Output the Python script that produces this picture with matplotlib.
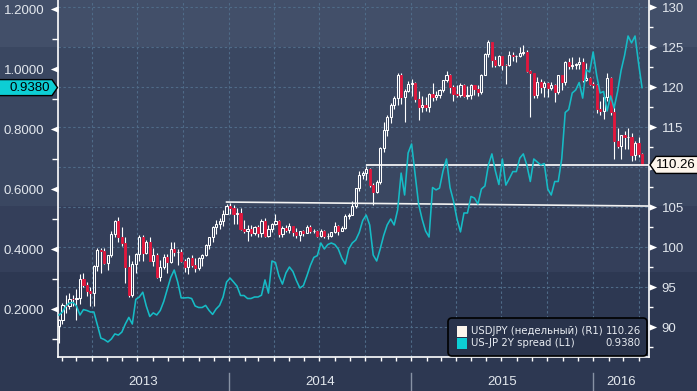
import numpy as np
import pandas as pd
import matplotlib
matplotlib.use("Agg")
import matplotlib.pyplot as plt
import matplotlib.dates as mdates
from matplotlib.patches import Polygon, FancyBboxPatch, Rectangle
from matplotlib.transforms import IdentityTransform, blended_transform_factory
from matplotlib.path import Path
from matplotlib.markers import MarkerStyle
from matplotlib.ticker import FixedLocator, FormatStrFormatter, NullFormatter, FuncFormatter

plt.rcParams['font.family'] = ['Liberation Sans', 'DejaVu Sans']

# ---------------- data ----------------
week_start = "2013-01-25"      # weekly candles, week-ending Fridays
n_weeks = 168

opens = [
    90.07, 90.85, 92.75, 92.67, 93.52, 93.45, 93.58, 96.02, 95.26, 94.51,
    94.22, 97.57, 99.60, 99.55, 98.05, 98.99, 101.61, 103.30, 101.22, 100.45,
    97.55, 94.05, 97.88, 99.14, 101.21, 99.22, 100.62, 98.27, 98.96, 96.22,
    97.54, 98.71, 98.13, 99.70, 99.35, 99.37, 98.22, 97.46, 98.59, 97.72,
    97.39, 98.65, 99.06, 100.23, 101.26, 102.44, 102.93, 103.19, 104.14,
    105.14, 104.86, 104.10, 104.28, 102.31, 102.04, 102.30, 101.80, 102.55, 101.81,
    103.28, 101.36, 102.25, 102.84, 103.28, 101.60, 102.42, 102.18, 102.57, 101.84,
    101.48, 101.98, 101.78, 102.49, 102.03, 102.06, 101.38, 102.06, 101.34, 101.34,
    101.83, 102.59, 102.03, 102.35, 103.86, 104.05, 105.08, 107.37, 108.99, 109.28,
    109.77, 107.76, 106.87, 108.14, 112.33, 114.60, 116.28, 117.76, 118.62, 121.44,
    118.75, 119.50,
    120.40, 120.48, 118.55, 117.52, 117.73, 117.49, 119.14, 118.73, 119.02, 119.64,
    120.83, 121.45, 120.02, 119.14, 118.95, 120.20, 118.93, 118.97, 120.22, 119.77,
    119.34, 121.54, 124.13, 125.59, 123.41, 122.69, 123.85, 122.80, 122.76, 124.03,
    123.82, 123.92, 124.21, 124.32, 122.04, 121.73, 119.03, 120.60, 119.96, 120.56,
    119.89, 120.22, 119.37, 121.45, 120.63, 123.15, 122.61, 122.79, 122.82, 123.11,
    120.93, 121.16, 120.33,
    120.20, 117.24, 117.03, 118.76, 121.13, 116.89, 113.23, 112.57, 113.99, 113.77,
    113.77, 111.55, 113.01, 111.63,
]
highs = [
    91.00, 92.95, 94.06, 94.20, 94.00, 94.80, 96.60, 96.70, 95.60, 95.00,
    97.80, 99.90, 99.90, 99.90, 99.00, 101.98, 103.32, 103.74, 102.50, 101.30,
    99.00, 98.20, 99.30, 101.50, 101.50, 100.90, 101.20, 99.90, 99.20, 98.40,
    99.10, 99.10, 100.60, 100.60, 99.70, 99.70, 98.50, 98.70, 99.00, 98.60,
    98.80, 99.10, 100.40, 101.30, 102.60, 103.40, 103.60, 104.60, 105.40,
    105.45, 105.20, 104.90, 104.90, 103.40, 102.70, 102.80, 102.60, 102.70, 103.50,
    103.60, 102.70, 103.00, 104.10, 103.40, 102.60, 102.70, 103.00, 102.60, 102.40,
    102.00, 102.10, 102.80, 102.70, 102.30, 102.10, 102.30, 102.10, 101.70, 101.90,
    103.10, 102.80, 102.60, 104.10, 104.30, 105.70, 107.40, 109.45, 109.50, 110.10,
    109.90, 108.00, 108.40, 112.50, 115.60, 116.50, 118.00, 118.90, 121.80, 121.80,
    119.80, 120.80,
    121.00, 120.60, 119.50, 118.90, 118.70, 119.20, 120.50, 119.50, 119.80, 120.90,
    122.00, 121.60, 120.30, 120.30, 120.50, 120.40, 120.10, 120.40, 120.30, 120.20,
    121.60, 124.30, 125.86, 125.60, 123.90, 124.00, 123.90, 122.90, 124.50, 124.40,
    124.00, 125.00, 125.30, 124.60, 122.10, 121.80, 121.20, 121.00, 120.80, 120.60,
    120.60, 120.40, 121.50, 121.50, 123.30, 123.60, 123.70, 123.00, 123.80, 123.60,
    123.00, 121.30, 120.60,
    120.40, 118.20, 118.90, 121.70, 121.20, 117.50, 114.90, 114.00, 114.50, 114.90,
    114.20, 113.30, 113.80, 111.80,
]
lows = [
    88.06, 90.40, 91.80, 92.20, 92.60, 90.85, 92.90, 95.00, 93.90, 92.60,
    92.60, 97.00, 96.80, 97.90, 97.10, 98.80, 101.30, 100.67, 100.10, 95.50,
    93.80, 93.80, 96.80, 98.20, 98.30, 99.10, 98.20, 97.60, 96.10, 95.80,
    97.20, 96.80, 98.00, 98.90, 97.80, 98.10, 96.90, 96.60, 97.50, 96.90,
    97.10, 97.60, 98.90, 99.80, 100.60, 101.60, 102.20, 102.60, 104.10,
    104.10, 102.90, 102.90, 102.10, 101.80, 100.75, 101.40, 101.50, 101.20, 101.20,
    101.20, 101.30, 101.90, 102.80, 101.30, 101.30, 101.90, 101.80, 101.40, 101.10,
    100.80, 101.40, 101.70, 101.70, 101.70, 101.20, 101.20, 101.10, 101.00, 101.30,
    101.80, 101.50, 102.00, 102.30, 103.50, 104.00, 104.90, 107.00, 108.50, 108.40,
    107.50, 105.20, 106.70, 107.90, 111.90, 113.90, 115.50, 117.20, 117.80, 117.90,
    115.60, 119.40,
    118.90, 118.10, 115.85, 116.90, 117.00, 116.90, 118.30, 118.40, 118.60, 119.40,
    120.60, 119.30, 118.30, 118.70, 118.70, 118.70, 118.50, 118.50, 119.00, 118.90,
    119.10, 121.50, 123.70, 122.50, 122.50, 122.60, 122.10, 120.40, 122.60, 123.30,
    123.10, 123.80, 124.00, 121.90, 116.20, 118.60, 118.60, 119.30, 118.70, 118.70,
    119.60, 118.10, 119.10, 119.60, 120.30, 122.20, 122.20, 122.20, 122.30, 120.60,
    120.80, 120.20, 119.90,
    116.70, 116.50, 115.97, 118.20, 116.50, 110.99, 112.40, 111.00, 112.20, 112.20,
    110.70, 110.90, 111.20, 110.20,
]
closes = [
    90.85, 92.75, 92.67, 93.52, 93.45, 93.58, 96.02, 95.26, 94.51, 94.22,
    97.57, 99.60, 99.55, 98.05, 98.99, 101.61, 103.30, 101.22, 100.45, 97.55,
    94.05, 97.88, 99.14, 101.21, 99.22, 100.62, 98.27, 98.96, 96.22, 97.54,
    98.71, 98.13, 99.70, 99.35, 99.37, 98.22, 97.46, 98.59, 97.72, 97.39,
    98.65, 99.06, 100.23, 101.26, 102.44, 102.93, 103.19, 104.14, 105.14,
    104.86, 104.10, 104.28, 102.31, 102.04, 102.30, 101.80, 102.55, 101.81, 103.28,
    101.36, 102.25, 102.84, 103.28, 101.60, 102.42, 102.18, 102.57, 101.84, 101.48,
    101.98, 101.78, 102.49, 102.03, 102.06, 101.38, 102.06, 101.34, 101.34, 101.83,
    102.59, 102.03, 102.35, 103.86, 104.05, 105.08, 107.37, 108.99, 109.28, 109.77,
    107.76, 106.87, 108.14, 112.33, 114.60, 116.28, 117.76, 118.62, 121.44, 118.75,
    119.50, 120.40,
    120.48, 118.55, 117.52, 117.73, 117.49, 119.14, 118.73, 119.02, 119.64, 120.83,
    121.45, 120.02, 119.14, 118.95, 120.20, 118.93, 118.97, 120.22, 119.77, 119.34,
    121.54, 124.13, 125.59, 123.41, 122.69, 123.85, 122.80, 122.76, 124.03, 123.82,
    123.92, 124.21, 124.32, 122.04, 121.73, 119.03, 120.60, 119.96, 120.56, 119.89,
    120.22, 119.37, 121.45, 120.63, 123.15, 122.61, 122.79, 122.82, 123.11, 120.93,
    121.16, 120.33, 120.20,
    117.24, 117.03, 118.76, 121.13, 116.89, 113.23, 112.57, 113.99, 113.77, 113.77,
    111.55, 113.01, 111.63, 110.26,
]
spread = [
    0.180, 0.190, 0.210, 0.220, 0.222, 0.210, 0.180, 0.198, 0.195, 0.190,
    0.190, 0.147, 0.103, 0.098, 0.090, 0.100, 0.117, 0.113, 0.123, 0.150,
    0.172, 0.150, 0.232, 0.240, 0.256, 0.210, 0.175, 0.187, 0.180, 0.195,
    0.225, 0.265, 0.305, 0.330, 0.290, 0.237, 0.237, 0.238, 0.235, 0.210,
    0.205, 0.205, 0.212, 0.195, 0.182, 0.200, 0.212, 0.240, 0.290, 0.303,
    0.290, 0.276, 0.245, 0.245, 0.235, 0.235, 0.240, 0.240, 0.246, 0.297,
    0.253, 0.360, 0.355, 0.310, 0.283, 0.320, 0.340, 0.325, 0.295, 0.270,
    0.278, 0.310, 0.345, 0.372, 0.378, 0.420, 0.400, 0.415, 0.420, 0.415,
    0.400, 0.370, 0.350, 0.400, 0.420, 0.430, 0.455, 0.495, 0.513, 0.480,
    0.380, 0.360, 0.400, 0.445, 0.480, 0.500, 0.480, 0.530, 0.653, 0.580,
    0.720, 0.750, 0.650, 0.550, 0.500, 0.460, 0.440, 0.605, 0.597, 0.603,
    0.660, 0.700, 0.605, 0.560, 0.500, 0.457, 0.520, 0.520, 0.575, 0.570,
    0.550, 0.600, 0.610, 0.680, 0.717, 0.660, 0.615, 0.700, 0.613, 0.635,
    0.658, 0.658, 0.703, 0.717, 0.680, 0.625, 0.700, 0.690, 0.680, 0.685,
    0.600, 0.580, 0.625, 0.625, 0.700, 0.855, 0.865, 0.920, 0.930, 0.955,
    0.903, 0.997, 0.990, 1.057, 0.980, 0.920, 0.925, 0.860, 0.910, 0.870,
    0.925, 0.995, 1.045, 1.110, 1.087, 1.110, 1.020, 0.938,
]

last_usdjpy = 110.26
last_spread = 0.9380
resistance_level = 110.26
resistance_start = "2014-10-03"
support_start_date = "2013-12-27"
support_levels = [105.62, 105.12]

years = [2013, 2014, 2015, 2016]
left_ticks = [0.2, 0.4, 0.6, 0.8, 1.0, 1.2]
left_minor = [0.1, 0.3, 0.5, 0.7, 0.9, 1.1]
right_ticks = [90, 95, 100, 105, 110, 115, 120, 125, 130]
right_hidden_label = 110          # covered by the last-price tag
right_minor = [87.5, 92.5, 97.5, 102.5, 107.5, 112.5, 117.5, 122.5, 127.5]
legend_labels = ["USDJPY (недельный) (R1)", "US-JP 2Y spread (L1)"]
legend_values = ["110.26", "0.9380"]

x_start, x_end = "2013-01-23", "2016-04-22"
left_lim = (0.04, 1.23)
right_lim = (86.25, 130.875)

# ---------------- styling ----------------
TXT = '#e3e8ee'
GRID = '#4f6b88'
RED = '#e2173d'
CYAN_LINE = '#16bcc6'
CYAN_BOX = '#0dced4'

W, H = 697, 391
fig = plt.figure(figsize=(W / 100, H / 100), dpi=100)

# banded dark background
bg = fig.add_axes([0, 0, 1, 1], zorder=-10)
bg.set_xlim(0, 1)
bg.set_ylim(H, 0)
for y0, y1, col in [(0, 47, '#424f69'), (47, 206, '#3a4761'),
                    (206, 272, '#343f5a'), (272, H, '#2d3852')]:
    bg.axhspan(y0, y1, color=col, lw=0)
bg.axis('off')

L, R, B, T = 58, 649, 357, 0
ax = fig.add_axes([L / W, (H - B) / H, (R - L) / W, (B - T) / H])
ax.set_facecolor('none')
ax.set_axisbelow(True)
ax_s = ax.twinx()
ax_s.set_facecolor('none')

dates = pd.date_range(week_start, periods=n_weeks, freq='W-FRI')
x = mdates.date2num(dates.to_pydatetime())
o, h, l, c = (np.array(v, dtype=float) for v in (opens, highs, lows, closes))
up = c >= o
lo_b = np.minimum(o, c)
hi_b = np.maximum(o, c)

ax.vlines(x, l, lo_b, color='white', lw=0.8, zorder=3)
ax.vlines(x, hi_b, h, color='white', lw=0.8, zorder=3)
bw = 4.3
ax.bar(x[up], (hi_b - lo_b)[up], bottom=lo_b[up], width=bw,
       facecolor='none', edgecolor='white', lw=0.75, zorder=4)
ax.bar(x[~up], (hi_b - lo_b)[~up], bottom=lo_b[~up], width=bw,
       facecolor=RED, edgecolor=RED, lw=0.6, zorder=4)

xmin = mdates.datestr2num(x_start)
xmax = mdates.datestr2num(x_end)
ax.set_xlim(xmin, xmax)
ax.set_ylim(*right_lim)

# horizontal level lines
ax.hlines(resistance_level, mdates.datestr2num(resistance_start), xmax,
          color='white', lw=1.2, zorder=5)
ax.plot([mdates.datestr2num(support_start_date), xmax], support_levels,
        color='#f2f2f2', lw=1.2, zorder=5)

# right axis (USDJPY)
ax.yaxis.tick_right()
ax.yaxis.set_label_position('right')
ax.yaxis.set_major_locator(FixedLocator(right_ticks))
ax.yaxis.set_minor_locator(FixedLocator(right_minor))
ax.yaxis.set_major_formatter(FuncFormatter(
    lambda v, p: '' if abs(v - right_hidden_label) < 1e-9 else f"{v:.0f}"))
ax.tick_params(axis='y', which='major', left=False, labelleft=False,
               right=True, labelright=True, length=0, pad=9,
               labelsize=9.5, labelcolor=TXT)
ax.tick_params(axis='y', which='minor', left=False, right=True, length=3,
               width=1, color='white', direction='out')

# x axis
ax.xaxis.set_major_locator(mdates.MonthLocator(bymonth=[1, 4, 7, 10]))
ax.xaxis.set_minor_locator(mdates.MonthLocator())
ax.xaxis.set_major_formatter(NullFormatter())
ax.tick_params(axis='x', which='both', length=3, width=1, color='white', direction='out')

ax.grid(True, which='major', color=GRID, ls=(0, (2.2, 2.2)), lw=0.8)

for s in ['top', 'left']:
    ax.spines[s].set_visible(False)
for s in ['right', 'bottom']:
    ax.spines[s].set_color('white')
    ax.spines[s].set_linewidth(1.2)

# spread axis (left)
ax_s.plot(x, spread, color=CYAN_LINE, lw=1.15, zorder=6)
ax_s.set_ylim(*left_lim)
ax_s.yaxis.tick_left()
ax_s.yaxis.set_label_position('left')
ax_s.yaxis.set_major_locator(FixedLocator(left_ticks))
ax_s.yaxis.set_minor_locator(FixedLocator(left_minor))
ax_s.yaxis.set_major_formatter(FormatStrFormatter('%.4f'))
ax_s.tick_params(axis='y', which='major', left=True, labelleft=True,
                 right=False, labelright=False, length=0, pad=10,
                 labelsize=9.5, labelcolor=TXT)
ax_s.tick_params(axis='y', which='minor', left=True, right=False, length=4,
                 width=1, color='white', direction='out')
for s in ['top', 'right', 'bottom']:
    ax_s.spines[s].set_visible(False)
ax_s.spines['left'].set_color('white')
ax_s.spines['left'].set_linewidth(1.2)

# triangle tick markers
tri_l = Path([(0, 0.42), (-1, 0), (0, -0.42), (0, 0.42)],
             [Path.MOVETO, Path.LINETO, Path.LINETO, Path.CLOSEPOLY])
tri_r = Path([(0, 0.42), (1, 0), (0, -0.42), (0, 0.42)],
             [Path.MOVETO, Path.LINETO, Path.LINETO, Path.CLOSEPOLY])
ax_s.plot(np.zeros(len(left_ticks)), left_ticks,
          transform=blended_transform_factory(ax_s.transAxes, ax_s.transData),
          marker=MarkerStyle(tri_l), ms=11, color='white', mec='white', mew=0,
          ls='none', clip_on=False, zorder=7)
ax.plot(np.ones(len(right_ticks)), right_ticks,
        transform=blended_transform_factory(ax.transAxes, ax.transData),
        marker=MarkerStyle(tri_r), ms=11, color='white', mec='white', mew=0,
        ls='none', clip_on=False, zorder=7)

# year labels and separators
bt = blended_transform_factory(ax.transData, ax.transAxes)
for yr in years:
    a = max(mdates.datestr2num(f"{yr}-01-01"), xmin)
    b = min(mdates.datestr2num(f"{yr + 1}-01-01"), xmax)
    ax.text((a + b) / 2, -0.071, str(yr), transform=bt, ha='center', va='center',
            fontsize=9.5, color=TXT)
    if yr > years[0]:
        d = mdates.datestr2num(f"{yr}-01-01")
        ax.plot([d, d], [-0.045, -0.1], transform=bt, color='#8792a4', lw=1,
                clip_on=False)

# ---------------- value tags ----------------
x0, y0b = ax.bbox.x0, ax.bbox.y0
x1 = ax.bbox.x1
ys = ax_s.transData.transform((x[0], last_spread))[1]
verts = [(-2, ys - 8), (x0 - 6, ys - 8), (x0 - 0.5, ys), (x0 - 6, ys + 8), (-2, ys + 8)]
fig.add_artist(Polygon(verts, closed=True, facecolor=CYAN_BOX, edgecolor='black',
                       lw=1, transform=IdentityTransform(), zorder=20))
fig.text(x0 - 28, ys - 0.5, f"{last_spread:.4f}", transform=IdentityTransform(),
         ha='center', va='center', fontsize=9.5, color='black', zorder=21)

yr_ = ax.transData.transform((x[0], last_usdjpy))[1]
verts = [(x1 + 1, yr_), (x1 + 7, yr_ + 8.5), (W + 3, yr_ + 8.5), (W + 3, yr_ - 8.5),
         (x1 + 7, yr_ - 8.5)]
fig.add_artist(Polygon(verts, closed=True, facecolor='#fdf6ec', edgecolor='black',
                       lw=1, transform=IdentityTransform(), zorder=20))
fig.text(x1 + 27, yr_ - 0.5, f"{last_usdjpy:.2f}", transform=IdentityTransform(),
         ha='center', va='center', fontsize=9.5, color='black', zorder=21)

# ---------------- legend ----------------
lg = FancyBboxPatch((x1 - 201, y0b + 1), 199, 38,
                    boxstyle="round,pad=0,rounding_size=4",
                    facecolor='#29334b', edgecolor='black', lw=1.2,
                    transform=IdentityTransform(), zorder=15)
fig.add_artist(lg)
row_y = [y0b + 26, y0b + 13.5]
for yy, lab, val, col in zip(row_y, legend_labels, legend_values, ['#fdf6ec', CYAN_BOX]):
    fig.add_artist(Rectangle((x1 - 192, yy - 5.5), 10, 11, facecolor=col, edgecolor='none',
                             transform=IdentityTransform(), zorder=16))
    fig.text(x1 - 178, yy, lab, transform=IdentityTransform(), ha='left', va='center',
             fontsize=7.3, color='#e8ecf2', family='DejaVu Sans', zorder=16)
    fig.text(x1 - 8, yy, val, transform=IdentityTransform(), ha='right', va='center',
             fontsize=7.3, color='#e8ecf2', family='DejaVu Sans', zorder=16)

fig.savefig("out.png", dpi=100)
